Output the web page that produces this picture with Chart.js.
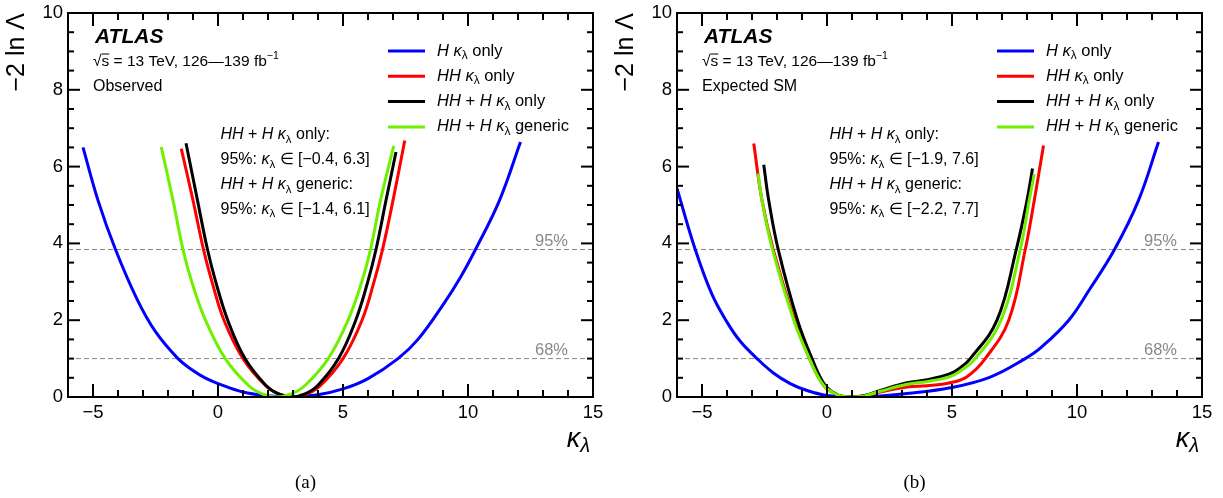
<!DOCTYPE html>
<html>
<head>
<meta charset="utf-8">
<script src="https://cdn.jsdelivr.net/npm/chart.js@4.4.0/dist/chart.umd.min.js"></script>
<style>
    body { margin: 0; background: #fff; width: 1223px; height: 498px; overflow: hidden; position: relative; }
    canvas { position: absolute; top: 0; }
    #panelA { left: 0; }
    #panelB { left: 609px; }
</style>
</head>
<body>
<canvas id="panelA" width="611" height="498"></canvas>
<canvas id="panelB" width="611" height="498"></canvas>
<script>
// kappa_lambda likelihood scans - observed (a) and expected SM (b)

const SANS = '"Liberation Sans", Arial, Helvetica, sans-serif';
const SERIF = '"Liberation Serif", "Times New Roman", serif';

// axes
const xRange = [-6, 15];
const yRange = [0, 10];
const xTicks = [-5, 0, 5, 10, 15];
const yTicks = [0, 2, 4, 6, 8, 10];
const cl95 = 3.84;
const cl68 = 1.0;

// (a) observed scans
const obsKappaH = [-5.4, -4.8, -4.1, -3.24, -2.5, -1.6, -1.0, -0.5, 0, 1, 2, 2.8, 4, 5, 6, 7.2, 8, 9, 9.7, 10.3, 11.26, 12.1];
const obsNllH = [6.5, 5.12, 3.84, 2.55, 1.7, 1.0, 0.69, 0.49, 0.35, 0.13, 0.03, 0, 0.06, 0.21, 0.48, 1.0, 1.5, 2.4, 3.12, 3.84, 5.12, 6.64];
const obsKappaHH = [-1.47, -1.0, -0.58, -0.24, 0.24, 1.0, 1.9, 2.43, 3.0, 3.57, 4.1, 5.0, 5.76, 6.24, 6.58, 7.0, 7.47];
const obsNllHH = [6.47, 5.12, 3.84, 3.0, 2.0, 1.0, 0.3, 0.08, 0, 0.08, 0.3, 1.0, 2.0, 3.0, 3.84, 5.12, 6.68];
const obsKappaComb = [-1.28, -0.82, -0.42, -0.09, 0.39, 1.08, 1.92, 2.42, 2.95, 3.48, 3.99, 4.82, 5.51, 5.99, 6.32, 6.72, 7.12];
const obsNllComb = [6.61, 5.12, 3.84, 3.0, 2.0, 1.0, 0.3, 0.08, 0, 0.08, 0.3, 1.0, 2.0, 3.0, 3.84, 5.12, 6.38];
const obsKappaGen = [-2.27, -1.8, -1.4, -1.05, -0.5, 0.29, 1.22, 1.77, 2.35, 2.93, 3.48, 4.41, 5.2, 5.75, 6.1, 6.5, 7.03];
const obsNllGen = [6.51, 5.12, 3.84, 3.0, 2.0, 1.0, 0.3, 0.08, 0, 0.08, 0.3, 1.0, 2.0, 3.0, 3.84, 5.12, 6.54];
const obsOnlyCI = [-0.4, 6.3];
const obsGenCI = [-1.4, 6.1];

// (b) expected SM scans
const expKappaH = [-6, -5.27, -4.6, -4, -3.47, -2.8, -2.13, -1.47, -0.8, 0, 1, 2, 3.2, 4.93, 6.53, 7.93, 8.53, 9.67, 10.5, 11.5, 12.46, 13.26];
const expNllH = [5.43, 3.84, 2.67, 1.95, 1.45, 1.0, 0.62, 0.35, 0.17, 0.04, 0, 0.02, 0.09, 0.24, 0.52, 1.0, 1.27, 2.0, 2.8, 3.84, 5.12, 6.64];
const expKappaHH = [-2.93, -2.6, -2.15, -1.3, -0.7, -0.13, 0.45, 1.0, 1.5, 2.13, 3.2, 4.0, 4.93, 5.6, 6.33, 7.27, 7.93, 8.29, 8.66];
const expNllHH = [6.6, 5.12, 3.84, 2.0, 1.0, 0.3, 0.05, 0, 0.03, 0.13, 0.26, 0.29, 0.37, 0.53, 1.0, 2.0, 3.84, 5.12, 6.55];
const expKappaComb = [-2.53, -2.33, -1.95, -1.18, -0.6, -0.07, 0.45, 1.0, 1.5, 2.13, 3.2, 4.0, 4.93, 5.3, 5.73, 6.8, 7.57, 8.0, 8.22];
const expNllComb = [6.05, 5.12, 3.84, 2.0, 1.0, 0.3, 0.05, 0, 0.04, 0.17, 0.37, 0.45, 0.61, 0.75, 1.0, 2.0, 3.84, 5.12, 5.95];
const expKappaGen = [-2.76, -2.6, -2.18, -1.33, -0.7, -0.13, 0.45, 1.0, 1.5, 2.13, 3.2, 4.0, 4.93, 5.3, 5.93, 6.96, 7.73, 8.09, 8.29];
const expNllGen = [5.82, 5.12, 3.84, 2.0, 1.0, 0.3, 0.05, 0, 0.03, 0.15, 0.33, 0.4, 0.53, 0.66, 1.0, 2.0, 3.84, 5.12, 5.8];
const expOnlyCI = [-1.9, 7.6];
const expGenCI = [-2.2, 7.7];

const colors = { h: '#0000ff', hh: '#ff0000', comb: '#000000', gen: '#6ff000' };

const legendRows = [
    { color: colors.h, parts: [['H ', 'i'], ['κ', 'i'], ['λ', 'sub'], [' only', 'n']] },
    { color: colors.hh, parts: [['HH ', 'i'], ['κ', 'i'], ['λ', 'sub'], [' only', 'n']] },
    { color: colors.comb, parts: [['HH', 'i'], [' + ', 'n'], ['H ', 'i'], ['κ', 'i'], ['λ', 'sub'], [' only', 'n']] },
    { color: colors.gen, parts: [['HH', 'i'], [' + ', 'n'], ['H ', 'i'], ['κ', 'i'], ['λ', 'sub'], [' generic', 'n']] }
];

function pts(kappa, nll) {
    return kappa.map((k, i) => ({ x: k, y: nll[i] }));
}

function fmt(v) {
    return (v < 0 ? '−' : '') + Math.abs(v).toFixed(1);
}

function drawRich(ctx, x, y, parts, size) {
    let cx = x;
    parts.forEach(([txt, st]) => {
        let fs = size, dy = 0, style = '';
        if (st === 'i') style = 'italic ';
        if (st === 'sub') { fs = size * 0.72; dy = size * 0.28; }
        if (st === 'sup') { fs = size * 0.68; dy = -size * 0.38; }
        ctx.font = `${style}${fs}px ${SANS}`;
        ctx.fillText(txt, cx, y + dy);
        cx += ctx.measureText(txt).width;
    });
    return cx;
}

function line(ctx, x1, y1, x2, y2) {
    ctx.beginPath();
    ctx.moveTo(x1, y1);
    ctx.lineTo(x2, y2);
    ctx.stroke();
}

// frame, inward ticks and all the labels inside the pad
const atlasDecor = {
    id: 'atlasDecor',
    afterDraw(chart, args, opts) {
        const { ctx, chartArea: a } = chart;
        const xs = chart.scales.x, ys = chart.scales.y;
        ctx.save();
        ctx.strokeStyle = '#000';
        ctx.lineWidth = 2;
        ctx.strokeRect(a.left, a.top, a.right - a.left, a.bottom - a.top);

        for (let v = xRange[0]; v <= xRange[1]; v += 1) {
            const px = xs.getPixelForValue(v);
            const len = v % 5 === 0 ? 13 : 7;
            line(ctx, px, a.bottom, px, a.bottom - len);
            line(ctx, px, a.top, px, a.top + len);
        }
        for (let v = yRange[0]; v <= yRange[1]; v += 0.5) {
            const py = ys.getPixelForValue(v);
            const len = v % 2 === 0 ? 12 : 6;
            line(ctx, a.left, py, a.left + len, py);
            line(ctx, a.right, py, a.right - len, py);
        }

        ctx.fillStyle = '#000';
        ctx.textBaseline = 'middle';
        ctx.textAlign = 'left';

        // ATLAS block
        ctx.font = `italic bold 21px ${SANS}`;
        ctx.fillText('ATLAS', a.left + 27, a.top + 24);
        let cx = drawRich(ctx, a.left + 25, a.top + 49, [['√', 'n']], 15.5);
        ctx.font = `15.5px ${SANS}`;
        const sw = ctx.measureText('s').width;
        ctx.fillText('s', cx, a.top + 49);
        ctx.lineWidth = 1;
        line(ctx, cx, a.top + 41, cx + sw, a.top + 41);
        drawRich(ctx, cx + sw, a.top + 49, [[' = 13 TeV, 126—139 fb', 'n'], ['−1', 'sup']], 15.5);
        ctx.font = `16px ${SANS}`;
        ctx.fillText(opts.status, a.left + 25, a.top + 74);

        // legend
        legendRows.forEach((row, i) => {
            const ry = a.top + 38 + i * 25.3;
            ctx.strokeStyle = row.color;
            ctx.lineWidth = 3;
            line(ctx, a.left + 320, ry, a.left + 357, ry);
            drawRich(ctx, a.left + 369, ry, row.parts, 16.5);
        });

        // interval summary
        const tx = a.left + 152.5;
        drawRich(ctx, tx, a.top + 122, [['HH', 'i'], [' + ', 'n'], ['H ', 'i'], ['κ', 'i'], ['λ', 'sub'], [' only:', 'n']], 16);
        drawRich(ctx, tx, a.top + 147, [['95%: ', 'n'], ['κ', 'i'], ['λ', 'sub'], [` ∈ [${fmt(opts.onlyCI[0])}, ${fmt(opts.onlyCI[1])}]`, 'n']], 16);
        drawRich(ctx, tx, a.top + 172, [['HH', 'i'], [' + ', 'n'], ['H ', 'i'], ['κ', 'i'], ['λ', 'sub'], [' generic:', 'n']], 16);
        drawRich(ctx, tx, a.top + 196.5, [['95%: ', 'n'], ['κ', 'i'], ['λ', 'sub'], [` ∈ [${fmt(opts.genCI[0])}, ${fmt(opts.genCI[1])}]`, 'n']], 16);

        // CL labels
        ctx.fillStyle = '#888';
        ctx.font = `16.5px ${SANS}`;
        ctx.textAlign = 'right';
        ctx.fillText('95%', a.right - 25, ys.getPixelForValue(cl95) - 8);
        ctx.fillText('68%', a.right - 25, ys.getPixelForValue(cl68) - 8);

        // x title
        ctx.fillStyle = '#000';
        ctx.textAlign = 'left';
        ctx.font = `italic 27px ${SANS}`;
        const kw = ctx.measureText('κ').width;
        ctx.font = `italic 20px ${SANS}`;
        const lw = ctx.measureText('λ').width;
        const x0 = a.right - 3 - kw - lw;
        ctx.font = `italic 27px ${SANS}`;
        ctx.fillText('κ', x0, 439);
        ctx.font = `italic 20px ${SANS}`;
        ctx.fillText('λ', x0 + kw, 446);

        // panel tag
        ctx.textAlign = 'center';
        ctx.font = `19px ${SERIF}`;
        ctx.fillText(opts.tag, chart.width / 2, 483);
        ctx.restore();
    }
};

function curve(data, color, order) {
    return {
        data, borderColor: color, borderWidth: 3, pointRadius: 0, fill: false,
        tension: 0.4, order
    };
}

function clLine(level) {
    return {
        data: [{ x: xRange[0], y: level }, { x: xRange[1], y: level }],
        borderColor: '#888', borderWidth: 1, borderDash: [5, 3], pointRadius: 0, order: 9
    };
}

function makePanel(id, p) {
    new Chart(document.getElementById(id), {
        type: 'line',
        data: {
            datasets: [
                clLine(cl95), clLine(cl68),
                curve(pts(p.kH, p.nH), colors.h, 4),
                curve(pts(p.kHH, p.nHH), colors.hh, 3),
                curve(pts(p.kComb, p.nComb), colors.comb, 2),
                curve(pts(p.kGen, p.nGen), colors.gen, 1)
            ]
        },
        options: {
            responsive: false,
            animation: false,
            layout: { padding: { top: 13, right: 18, bottom: 0, left: 0 } },
            plugins: {
                legend: { display: false },
                tooltip: { enabled: false },
                atlasDecor: { tag: p.tag, status: p.status, onlyCI: p.onlyCI, genCI: p.genCI }
            },
            scales: {
                x: {
                    type: 'linear', min: xRange[0], max: xRange[1],
                    grid: { display: false, drawTicks: false },
                    border: { display: false },
                    ticks: {
                        color: '#000', padding: 5, maxRotation: 0,
                        font: { family: SANS, size: 18.5 },
                        callback: v => String(v).replace('-', '−')
                    },
                    afterBuildTicks: s => { s.ticks = xTicks.map(v => ({ value: v })); },
                    afterFit: s => { s.height = 101; s.paddingLeft = 0; s.paddingRight = 0; }
                },
                y: {
                    type: 'linear', min: yRange[0], max: yRange[1],
                    grid: { display: false, drawTicks: false },
                    border: { display: false },
                    title: {
                        display: true, text: '−2 ln Λ', align: 'end', color: '#000',
                        font: { family: SANS, size: 25 }, padding: { top: 2, bottom: 0 }
                    },
                    ticks: {
                        color: '#000', padding: 5,
                        font: { family: SANS, size: 18.5 }
                    },
                    afterBuildTicks: s => { s.ticks = yTicks.map(v => ({ value: v })); },
                    afterFit: s => { s.width = 68; s.paddingTop = 0; s.paddingBottom = 0; }
                }
            }
        },
        plugins: [atlasDecor]
    });
}

makePanel('panelA', {
    tag: '(a)', status: 'Observed', onlyCI: obsOnlyCI, genCI: obsGenCI,
    kH: obsKappaH, nH: obsNllH, kHH: obsKappaHH, nHH: obsNllHH,
    kComb: obsKappaComb, nComb: obsNllComb, kGen: obsKappaGen, nGen: obsNllGen
});
makePanel('panelB', {
    tag: '(b)', status: 'Expected SM', onlyCI: expOnlyCI, genCI: expGenCI,
    kH: expKappaH, nH: expNllH, kHH: expKappaHH, nHH: expNllHH,
    kComb: expKappaComb, nComb: expNllComb, kGen: expKappaGen, nGen: expNllGen
});
</script>
</body>
</html>
